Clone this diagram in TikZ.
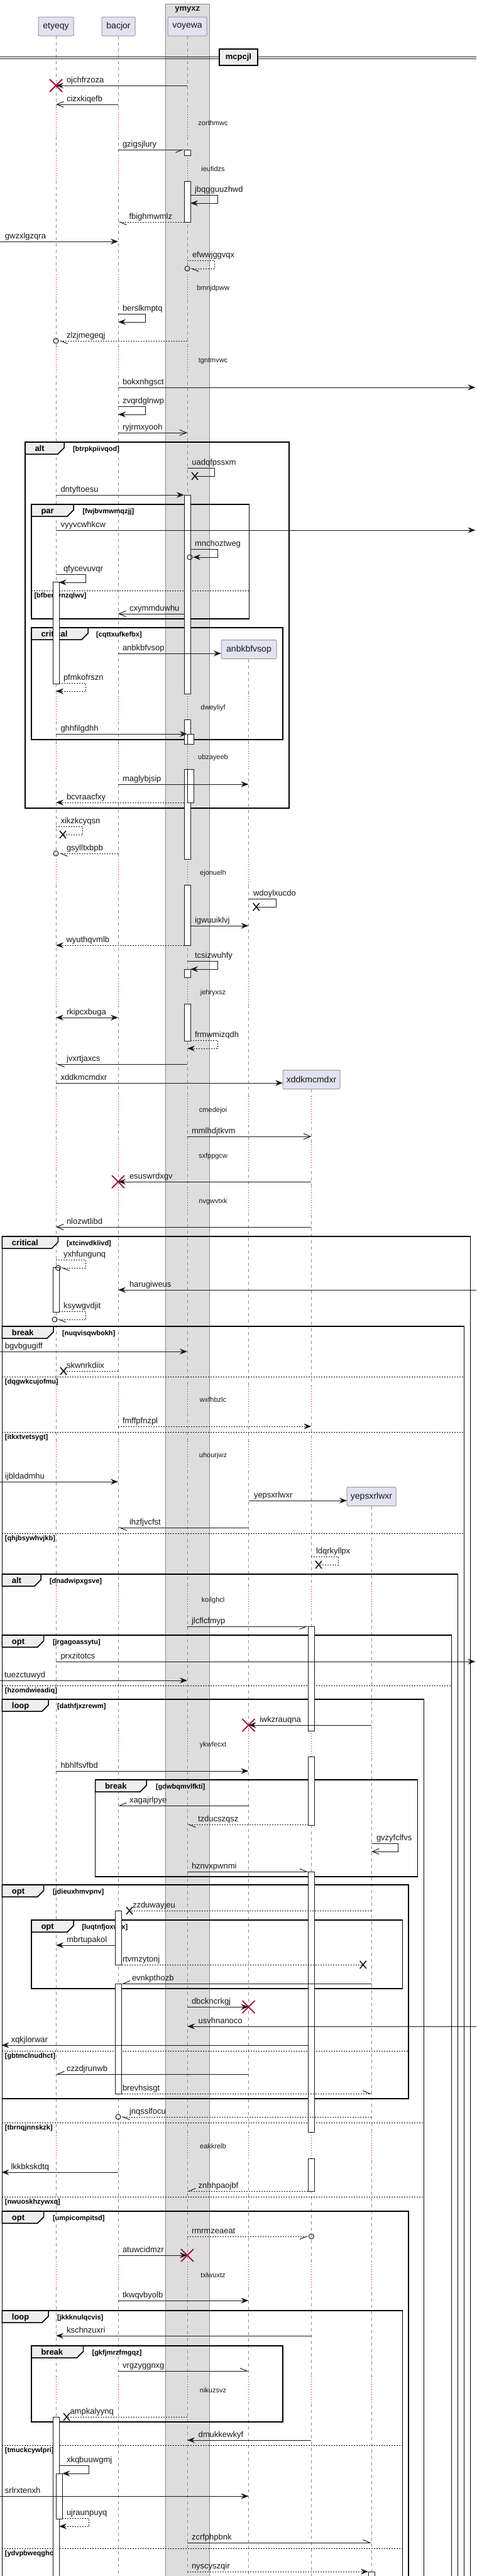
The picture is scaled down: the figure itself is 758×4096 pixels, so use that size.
\documentclass[tikz,border=0pt]{standalone}
\usepackage{fontspec}
\setmainfont{Liberation Sans}
\usetikzlibrary{arrows.meta}
\definecolor{delayred}{RGB}{168,0,54}
\definecolor{lifec}{HTML}{8A8A8A}
\definecolor{pfill}{HTML}{E2E2F0}
\definecolor{pdraw}{HTML}{999999}
\definecolor{boxfill}{HTML}{DDDDDD}
\definecolor{boxdraw}{HTML}{8A8A8A}
\definecolor{tabfill}{HTML}{EEEEEE}
\definecolor{ink}{HTML}{181818}
\newcommand\sqmsg[6]{\draw[msgline,#4] (#1,#3) -- (#2,#3); \node[lbl] (m-#6) at (#5,#3-5) {#6};}
\newcommand\sqself[7]{\draw[msgline,#5] (#1,#3) -- (#2,#3) -- (#2,#3+13) -- (#4,#3+13); \node[lbl] (m-#7) at (#6,#3-5) {#7};}
\newcommand\sqredx[2]{\draw[redx] (#1-10,#2-10) -- (#1+10,#2+10) (#1-10,#2+10) -- (#1+10,#2-10);}
\newcommand\sqblkx[2]{\draw[blkx] (#1-5,#2-6) -- (#1+5,#2+6) (#1-5,#2+6) -- (#1+5,#2-6);}
\newcommand\sqcirc[2]{\draw[ink, line width=1pt] (#1,#2) circle[radius=4pt];}
\newcommand\sqact[3]{\draw[actbox] (#1-5,#2) rectangle (#1+5,#3);}
\newcommand\sqdly[3]{\foreach \c in {#3}{\fill[#2] (#1-1.6,\c-21) rectangle (#1+1.6,\c+21); \draw[delayline] (#1,\c-21) -- (#1,\c+21);}}
\newcommand\sqfrm[8]{%
  \draw[frameline] (#1,#3) rectangle (#2,#4);
  \draw[frameline, fill=tabfill] (#1,#3) -- (#1+#5,#3) -- (#1+#5,#3+9) -- (#1+#5-10,#3+19) -- (#1,#3+19) -- cycle;
  \node[tablbl] (f-#3) at (#1+15.5,#3+14) {#6};
  \node[condlbl] (c-#3) at (#7,#3+14) {#8};}
\newcommand\sqels[4]{\draw[elseline] (#1,#3) -- (#2,#3); \node[condlbl] (e-#3) at (#1+4.5,#3+11) {#4};}
\begin{document}
\begin{tikzpicture}[x=1pt,y=-1pt,
  every node/.style={inner sep=0pt, outer sep=0pt},
  lifeline/.style={draw=lifec, line width=0.8pt, dash pattern=on 5pt off 5pt},
  delayline/.style={draw=delayred, line width=0.8pt, dash pattern=on 1pt off 3pt},
  msgline/.style={draw=ink, line width=1pt},
  dsh/.style={dash pattern=on 2pt off 2pt},
  filled/.style={-{Stealth[length=12pt,width=9pt,inset=4pt]}},
  filledboth/.style={{Stealth[length=12pt,width=9pt,inset=4pt]}-{Stealth[length=12pt,width=9pt,inset=4pt]}},
  openh/.style={-{Straight Barb[length=11pt,width=9pt]}},
  halfl/.style={-{Straight Barb[left,length=11pt,width=9pt]}},
  halfr/.style={-{Straight Barb[right,length=11pt,width=9pt]}},
  lbl/.style={anchor=base west, font=\fontsize{13}{15}\selectfont, text=ink},
  dtext/.style={anchor=base, font=\fontsize{11}{13}\selectfont, text=ink},
  tablbl/.style={anchor=base west, font=\bfseries\fontsize{13}{15}\selectfont},
  condlbl/.style={anchor=base west, font=\bfseries\fontsize{11}{13}\selectfont},
  frameline/.style={draw=black, line width=1.5pt},
  elseline/.style={draw=black, line width=1pt, dash pattern=on 2pt off 2pt},
  redx/.style={draw=delayred, line width=1.8pt},
  blkx/.style={draw=ink, line width=1.6pt},
  actbox/.style={draw=ink, fill=white, line width=1pt},
  pbox/.style={draw=pdraw, fill=pfill, rounded corners=2pt, minimum height=30pt, line width=1pt, font=\fontsize{14}{16}\selectfont, text=ink}
]
\useasboundingbox (0,0) rectangle (758,4096);
\fill[white] (0,0) rectangle (758,4096);
% box ymyxz
\draw[boxdraw, fill=boxfill, line width=1pt] (263.5,6) rectangle (333.2,4120);
\node[font=\bfseries\fontsize{13}{15}\selectfont, text=ink] (ymyxz) at (298.3,15) {ymyxz};
% lifelines
\draw[lifeline] (89,57) -- (89,4120);
\draw[lifeline] (188,57) -- (188,4120);
\draw[lifeline] (298,57) -- (298,4120);
\draw[lifeline] (395.5,1048) -- (395.5,4120);
\draw[lifeline] (495.4,1732) -- (495.4,4120);
\draw[lifeline] (591,2395) -- (591,4120);
% delays
\sqdly{89}{white}{195,268,457,572,1124,1203,1387,1577,1764,1837,1909,2225,2313,2543,2773,3412,3617,3800}
\sqdly{188}{white}{195,268,457,572,1124,1203,1387,1577,1764,1837,1909,2225,2313,2543,2773,3412,3617,3800}
\sqdly{298}{boxfill}{195,268,457,572,1124,1203,1387,1577,1764,1837,1909,2225,2313,2543,2773,3412,3617,3800}
\sqdly{395.5}{white}{1124,1203,1387,1577,1764,1837,1909,2225,2313,2543,2773,3412,3617,3800}
\sqdly{495.4}{white}{1764,1837,1909,2225,2313,2543,2773,3412,3617,3800}
\sqdly{591}{white}{2543,2773,3412,3617,3800}
\foreach \c/\t in {195/zorthmwc,268/ieufidzs,457/bmnjdpww,572/tgntmvwc,1124/dweyliyf,1203/ubzayeeb,1387/ejonuelh,1577/jehryxsz,1764/cmedejoi,1837/sxfppgcw,1909/nvgwvtxk,2225/wxfhbzlc,2313/uhourjwz,2543/koilghcl,2773/ykwfecxt,3412/eakkrelb,3617/txlwuxtz,3800/nikuzsvz}
  {\node[dtext] (d-\c) at (339,\c+4) {\t};}
% participants
\node[pbox, minimum width=56pt] (p-etyeqy) at (89,42) {etyeqy};
\node[pbox, minimum width=53pt] (p-bacjor) at (188.5,42) {bacjor};
\node[pbox, minimum width=62pt] (p-voyewa) at (298,42) {voyewa};
\node[pbox, minimum width=88pt] (p-anbkbfvsop) at (396,1032.5) {anbkbfvsop};
\node[pbox, minimum width=91pt] (p-xddkmcmdxr) at (495.5,1716.5) {xddkmcmdxr};
\node[pbox, minimum width=78pt] (p-yepsxrlwxr) at (591,2379.5) {yepsxrlwxr};
% divider
\draw[ink, line width=1pt] (0,90.7) -- (758,90.7) (0,93.3) -- (758,93.3);
\node[draw=black, line width=1.5pt, fill=tabfill, minimum width=61pt, minimum height=26pt, font=\bfseries\fontsize{13}{15}\selectfont] (div) at (379.5,91) {mcpcjl};
% frames
\sqfrm{40}{460}{703}{1285}{62}{alt}{116}{[btrpkpiivqod]}
\sqfrm{50}{396.5}{802}{984}{67}{par}{131.5}{[fwjbvmwmqzjj]}
\sqels{50}{396.5}{939}{[bfbemvnzqlwv]}
\sqfrm{50}{450}{998}{1176}{90}{critical}{153}{[cqttxufkefbx]}
\sqfrm{3.4}{748.6}{1966}{4120}{89}{critical}{106}{[xtcinvdklivd]}
\sqfrm{3.4}{738.4}{2109}{4120}{81.6}{break}{99}{[nuqvisqwbokh]}
\sqels{3.4}{738.4}{2189}{[dqgwkcujofmu]}
\sqels{3.4}{738.4}{2277}{[itkxtvetsygt]}
\sqels{3.4}{738.4}{2438}{[qhjbsywhvjkb]}
\sqfrm{3.4}{728.7}{2503}{4120}{61.6}{alt}{79}{[dnadwipxgsve]}
\sqfrm{3.4}{718.5}{2600}{4120}{66.3}{opt}{84}{[jrgagoassytu]}
\sqels{3.4}{718.5}{2680}{[hzomdwieadiq]}
\sqfrm{3.4}{674.6}{2702}{4120}{73.6}{loop}{91}{[dathfjxzrewm]}
\sqels{3.4}{674.6}{3375}{[tbrnqjnnskzk]}
\sqels{3.4}{674.6}{3493}{[nwuoskhzywxq]}
\sqfrm{151.5}{664.4}{2830}{2984}{81.5}{break}{248}{[gdwbqmvlfkti]}
\sqfrm{3.4}{650}{2997}{3337}{66.3}{opt}{84}{[jdieuxhmvpnv]}
\sqels{3.4}{650}{3261}{[gbtmclnudhct]}
\sqfrm{50}{640.5}{3053}{3162}{67}{opt}{130.5}{[luqtnfjoxwrx]}
\sqfrm{3.4}{650}{3516}{4120}{66.3}{opt}{84}{[umpicompitsd]}
\sqfrm{3.4}{640.5}{3674}{4120}{73.6}{loop}{91}{[jkkknulqcvis]}
\sqels{3.4}{640.5}{3888}{[tmuckcywlpri]}
\sqels{3.4}{640.5}{4052}{[ydvpbweqghch]}
\sqfrm{50}{450}{3730}{3851}{82.5}{break}{146.6}{[gkfjmrzfmgqz]}
% activations
\sqact{298}{238}{247}
\sqact{298}{288}{353}
\sqact{298}{787}{1103}
\sqact{298}{1144}{1183}
\sqact{298}{1223}{1366}
\sqact{298}{1407}{1503}
\sqact{303.5}{1167}{1183}
\sqact{303.5}{1223}{1276}
\sqact{298}{1541}{1554}
\sqact{298}{1596}{1655}
\sqact{89}{925}{1087}
\sqact{89}{2015}{2086}
\sqact{89}{3843}{4120}
\sqact{94.2}{3933}{4005}
\sqact{495.4}{2586}{2752}
\sqact{495.4}{2793}{2902}
\sqact{495.4}{2976}{3390}
\sqact{495.4}{3432}{3484}
\sqact{188.7}{3038}{3124}
\sqact{188.7}{3154}{3329}
\sqact{591}{4089}{4120}
% messages
\sqmsg{298}{89}{136}{filled}{106}{ojchfrzoza}
\sqredx{89}{136}
\sqmsg{188}{89}{166}{openh}{106}{cizxkiqefb}
\sqmsg{188}{293}{238}{halfr}{195}{gzigsjlury}
\sqself{303}{346}{310}{303}{filled}{310}{jbqgguuzhwd}
\sqmsg{293}{188}{353}{dsh,halfl}{205.5}{fbighmwmlz}
\sqmsg{0}{188}{384}{filled}{8}{gwzxlgzqra}
\sqself{298}{341}{414}{302.5}{dsh,halfl}{306}{efwwjggvqx}
\sqcirc{298}{427}
\sqself{188}{231}{499}{188}{filled}{195}{berslkmptq}
\sqmsg{298}{94}{542}{dsh,halfl}{106}{zlzjmegeqj}
\sqcirc{89}{542}
\sqmsg{188}{756.5}{616}{filled}{195}{bokxnhgsct}
\sqself{188}{231}{646}{188}{filled}{195}{zvqrdglnwp}
\sqmsg{188}{298}{688}{openh}{195}{ryjrmxyooh}
\sqself{298}{341}{744}{310}{}{305.4}{uadqfpssxm}
\sqblkx{310}{757}
\sqmsg{89}{293}{787}{filled}{96.5}{dntyftoesu}
\sqmsg{89}{756.5}{843}{filled}{96.5}{vyyvcwhkcw}
\sqself{303}{346}{873}{307}{filled}{310}{mnchoztweg}
\sqcirc{302}{886}
\sqself{89}{136}{913}{93.5}{filled}{101}{qfycevuvqr}
\sqmsg{293}{188}{976}{openh}{206}{cxymmduwhu}
\sqmsg{188}{352}{1039}{filled}{195}{anbkbfvsop}
\sqself{93.5}{136}{1086}{89}{dsh,filled}{101}{pfmkofrszn}
\sqmsg{89}{298}{1167}{filled}{96.5}{ghhfilgdhh}
\sqmsg{188}{395.5}{1247}{filled}{195}{maglybjsip}
\sqmsg{293}{89}{1276}{dsh,filled}{106}{bcvraacfxy}
\sqself{89}{131.5}{1314}{100}{dsh}{96.5}{xikzkcyqsn}
\sqblkx{100}{1327}
\sqmsg{188}{94}{1357}{dsh,halfl}{106}{gsylltxbpb}
\sqcirc{89}{1357}
\sqself{395.5}{439}{1429}{407.7}{}{403}{wdoylxucdo}
\sqblkx{407.7}{1442}
\sqmsg{303}{395.5}{1472}{filled}{310}{igwuuiklvj}
\sqmsg{293}{89}{1503}{dsh,filled}{105.5}{wyuthqvmlb}
\sqself{298}{346}{1528}{303}{filled}{310}{tcsizwuhfy}
\sqmsg{89}{188}{1618}{filledboth}{106}{rkipcxbuga}
\sqself{303}{346}{1654}{298}{dsh,filled}{310}{frmwmizqdh}
\sqmsg{298}{89}{1692}{halfl}{106}{jvxrtjaxcs}
\sqmsg{89}{450}{1722}{filled}{96.5}{xddkmcmdxr}
\sqmsg{298}{495.4}{1807}{openh}{305}{mmlhdjtkvm}
\sqmsg{495.4}{188}{1879}{filled}{206}{esuswrdxgv}
\sqredx{188}{1879}
\sqmsg{495.4}{89}{1951}{openh}{106}{nlozwtlibd}
\sqself{89}{136}{2003}{97}{dsh,halfl}{101}{yxhfungunq}
\sqcirc{92.5}{2016}
\sqmsg{758}{188}{2051}{filled}{206}{harugiweus}
\sqself{93.5}{136}{2085}{91.5}{dsh,halfl}{101}{ksywgvdjit}
\sqcirc{87}{2098}
\sqmsg{0}{298}{2149}{filled}{8}{bgvbgugiff}
\sqmsg{188}{101}{2180}{dsh}{106}{skwnrkdiix}
\sqblkx{101}{2180}
\sqmsg{188}{495.4}{2268}{dsh,filled}{195}{fmffpfnzpl}
\sqmsg{0}{188}{2356}{filled}{8}{ijbldadmhu}
\sqmsg{395.5}{552}{2386}{filled}{404}{yepsxrlwxr}
\sqmsg{395.5}{188}{2429}{halfl}{206}{ihzfjvcfst}
\sqself{495.4}{538.7}{2475}{507}{dsh}{503}{ldqrkyllpx}
\sqblkx{507}{2488}
\sqmsg{298}{490.5}{2586}{halfr}{305}{jlcflcfmyp}
\sqmsg{89}{756.5}{2642}{filled}{96.5}{prxzitotcs}
\sqmsg{0}{298}{2672}{filled}{7}{tuezctuwyd}
\sqmsg{591}{395.5}{2743}{filled}{413}{iwkzrauqna}
\sqredx{395.5}{2743}
\sqmsg{89}{395.5}{2816}{filled}{96.5}{hbhlfsvfbd}
\sqmsg{395.5}{188}{2871}{halfr}{206}{xagajrlpye}
\sqmsg{490.5}{298}{2901}{dsh,halfl}{315}{tzducszqsz}
\sqself{591}{633}{2931}{591}{openh}{599}{gvzyfclfvs}
\sqmsg{298}{490.5}{2976}{halfl}{305}{hznvxpwnmi}
\sqmsg{591}{206}{3038}{dsh}{211}{zzduwayjeu}
\sqblkx{206}{3038}
\sqmsg{183.7}{89}{3093}{filled}{106}{mbrtupakol}
\sqmsg{193.7}{577.7}{3124}{dsh}{195}{rtvmzytonj}
\sqblkx{577.7}{3124}
\sqmsg{591}{193.7}{3154}{halfr}{210}{evnkpthozb}
\sqmsg{298}{395.5}{3191}{filled}{305}{dbckncrkgj}
\sqredx{395.5}{3191}
\sqmsg{758}{298}{3222}{filled}{315.6}{usvhnanoco}
\sqmsg{490.4}{2.4}{3252}{filled}{17.5}{xqkjlorwar}
\sqmsg{395.5}{89}{3298}{halfr}{106}{czzdjrunwb}
\sqmsg{193.7}{591}{3329}{dsh,halfl}{195}{brevhsisgt}
\sqmsg{591}{193}{3366}{dsh,halfl}{206}{jnqsslfocu}
\sqcirc{188}{3366}
\sqmsg{188}{2.4}{3454}{filled}{17.5}{lkkbkskdtq}
\sqmsg{490.4}{298}{3484}{dsh,halfr}{315.6}{znhhpaojbf}
\sqmsg{298}{490.4}{3556}{dsh,halfr}{305}{rmrmzeaeat}
\sqcirc{495.4}{3556}
\sqmsg{188}{298}{3586}{filled}{195}{atuwcidmzr}
\sqredx{298}{3586}
\sqmsg{188}{395.5}{3658}{filled}{195}{tkwqvbyolb}
\sqmsg{495.4}{89}{3714}{filled}{106}{kschnzuxri}
\sqmsg{188}{395.5}{3770}{halfl}{195}{vrgzyggnxg}
\sqmsg{298}{106}{3843}{dsh}{111.5}{ampkalyynq}
\sqblkx{106}{3843}
\sqmsg{495.4}{298}{3880}{filled}{315.6}{dmukkewkyf}
\sqself{94}{141.7}{3920}{99.2}{filled}{106}{xkqbuuwgmj}
\sqmsg{0}{395.5}{3969}{filled}{8}{srlrxtenxh}
\sqself{99.2}{141.7}{4004}{94}{dsh,filled}{106}{ujraunpuyq}
\sqmsg{298}{591}{4043}{halfl}{305}{zcrfphpbnk}
\sqmsg{298}{586}{4089}{dsh,filled}{305}{nyscyszqir}
\end{tikzpicture}
\end{document}
